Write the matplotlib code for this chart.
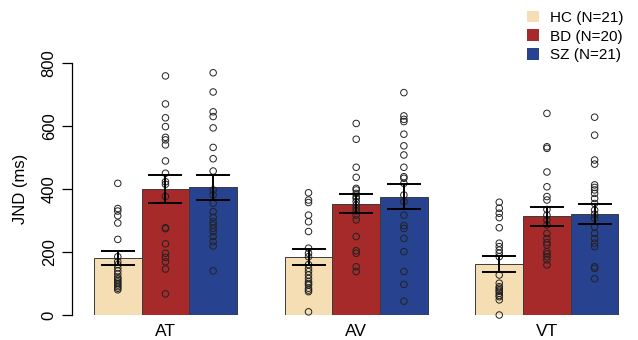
import matplotlib
matplotlib.use("Agg")
import matplotlib.pyplot as plt
from matplotlib.patches import Patch
import numpy as np

plt.rcParams['font.family'] = ['Liberation Sans', 'DejaVu Sans']

conditions = ['AT', 'AV', 'VT']
groups = ['HC (N=21)', 'BD (N=20)', 'SZ (N=21)']
colors = ['#F5DEB3', '#A62A2A', '#27438F']

# bar heights (means) and standard errors
means = {
    'AT': [182, 399, 406],
    'AV': [184, 353, 376],
    'VT': [163, 313, 321],
}
sems = {
    'AT': [22, 45, 40],
    'AV': [24, 30, 39],
    'VT': [25, 31, 31],
}

# individual subjects
at_hc = [418, 338, 330, 315, 292, 240, 185, 170, 160, 150, 140, 130, 120,
         115, 110, 105, 100, 95, 90, 85, 80]
at_bd = [759, 670, 626, 598, 564, 556, 540, 489, 450, 423, 415, 376, 277,
         274, 226, 196, 183, 169, 146, 67]
at_sz = [769, 708, 645, 630, 594, 532, 496, 457, 397, 381, 355, 328, 310,
         296, 286, 275, 264, 249, 233, 219, 140]
av_hc = [388, 365, 357, 317, 296, 265, 212, 196, 185, 160, 148, 138, 127,
         116, 106, 100, 95, 85, 79, 74, 10]
av_bd = [608, 558, 469, 437, 402, 397, 386, 376, 370, 360, 349, 339, 330,
         317, 302, 249, 204, 196, 153, 138]
av_sz = [706, 632, 621, 614, 574, 537, 508, 469, 439, 434, 418, 381, 360,
         317, 284, 275, 243, 201, 138, 97, 44]
vt_hc = [358, 339, 323, 309, 277, 228, 217, 206, 196, 185, 127, 101, 90,
         85, 79, 75, 69, 62, 58, 48, 0]
vt_bd = [640, 534, 529, 454, 407, 376, 365, 335, 317, 302, 286, 259, 243,
         230, 222, 201, 194, 185, 175, 159]
vt_sz = [628, 571, 492, 479, 413, 405, 397, 386, 370, 354, 333, 320, 307,
         280, 259, 243, 228, 217, 153, 148, 115]

points = {
    'AT': [at_hc, at_bd, at_sz],
    'AV': [av_hc, av_bd, av_sz],
    'VT': [vt_hc, vt_bd, vt_sz],
}

fig = plt.figure(figsize=(6.38, 3.4), dpi=100)
ax = fig.add_axes([72 / 638, 25 / 340, 556 / 638, 252 / 340])

for g, cond in enumerate(conditions):
    for b in range(3):
        x = 1.5 + g * 4 + b
        ax.bar(x, means[cond][b], width=1.0, color=colors[b],
               edgecolor='#3a3a3a', linewidth=0.7, zorder=1)
        ax.scatter(np.full(len(points[cond][b]), x), points[cond][b], s=22,
                   facecolors='none', edgecolors='#222222', linewidths=0.7,
                   zorder=3, clip_on=False)
        ax.errorbar(x, means[cond][b], yerr=sems[cond][b], color='black',
                    capsize=12.5, elinewidth=1.4, capthick=1.4, zorder=4)
    ax.text(2.5 + g * 4, -28, cond, ha='center', va='top', fontsize=12.5)

ax.set_xlim(0.54, 12.2)
ax.set_ylim(0, 800)
ax.set_yticks([0, 200, 400, 600, 800])
ax.tick_params(axis='y', length=7, width=0.9, pad=4, direction='out',
               labelsize=12, labelrotation=90)
for lab in ax.get_yticklabels():
    lab.set_verticalalignment('center')
ax.set_xticks([])
for s in ['top', 'right', 'bottom']:
    ax.spines[s].set_visible(False)
ax.spines['left'].set_linewidth(0.9)
ax.set_ylabel('JND (ms)', fontsize=12, labelpad=10)

handles = [Patch(facecolor=c, edgecolor='none') for c in colors]
fig.legend(handles, groups, loc='upper left', bbox_to_anchor=(516 / 638, 1.0),
           frameon=False, fontsize=11, handlelength=0.8, handleheight=0.8,
           handletextpad=0.7, labelspacing=0.3, borderaxespad=0.3)

fig.savefig('out.png', dpi=100)
